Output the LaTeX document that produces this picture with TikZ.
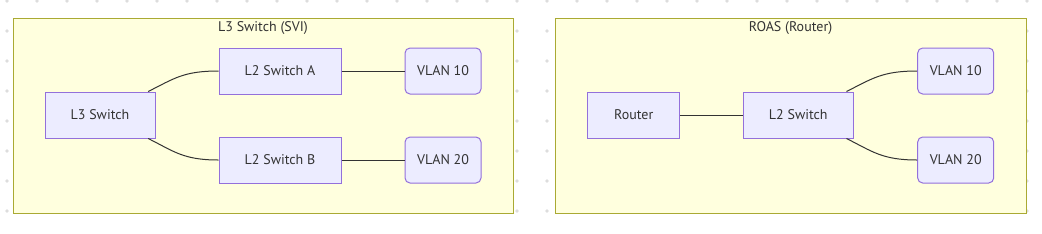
\documentclass[tikz,border=0pt]{standalone}
\usepackage{fontspec}
\setmainfont{PT Sans}
\definecolor{nodefill}{HTML}{ECECFF}
\definecolor{nodeline}{HTML}{9370DB}
\definecolor{clfill}{HTML}{FFFFDE}
\definecolor{clline}{HTML}{AAAA33}
\definecolor{txt}{HTML}{333333}
\definecolor{dotc}{HTML}{DDDDDD}
\begin{document}
\begin{tikzpicture}[x=0.75pt,y=-0.75pt,
  box/.style={draw=nodeline,fill=nodefill,line width=0.75pt,minimum height=34.5pt,inner sep=0pt,text=txt,font=\fontsize{10.5pt}{12pt}\selectfont},
  vlan/.style={box,rounded corners=3.75pt,minimum width=57pt},
  cluster/.style={draw=clline,fill=clfill,line width=0.75pt},
  ctitle/.style={text=txt,inner sep=0pt,font=\fontsize{10.5pt}{12pt}\selectfont},
  edge/.style={draw=txt,line width=0.75pt}]
\useasboundingbox (0,0) rectangle (1042,233);
\foreach \i in {0,...,34}{\foreach \j in {0,...,7}{
  \fill[dotc] (7+30*\i,1+30*\j) circle (1.4pt);}}
% clusters
\draw[cluster] (13,18) rectangle (513,213);
\node[ctitle] (t1) at (263,28.5) {L3 Switch (SVI)};
\draw[cluster] (555,18) rectangle (1026,213);
\node[ctitle] (t2) at (790.5,28.5) {ROAS (Router)};
% left nodes
\node[box,minimum width=82.5pt] (l3) at (100,115) {L3 Switch};
\node[box,minimum width=91.5pt] (a) at (280,71) {L2 Switch A};
\node[box,minimum width=91.5pt] (b) at (280,160) {L2 Switch B};
\node[vlan] (v10) at (443,71) {VLAN 10};
\node[vlan] (v20) at (443,160) {VLAN 20};
% right nodes
\node[box,minimum width=69pt] (r) at (633.7,115) {Router};
\node[box,minimum width=82.5pt] (l2) at (798.3,115) {L2 Switch};
\node[vlan] (w10) at (955.7,71) {VLAN 10};
\node[vlan] (w20) at (955.7,160) {VLAN 20};
% edges
\draw[edge] (l3.26) .. controls +(26,-13) and +(-35,0) .. (a.west);
\draw[edge] (l3.-26) .. controls +(26,13) and +(-35,0) .. (b.west);
\draw[edge] (a) -- (v10);
\draw[edge] (b) -- (v20);
\draw[edge] (r) -- (l2);
\draw[edge] (l2.26) .. controls +(26,-13) and +(-35,0) .. (w10.west);
\draw[edge] (l2.-26) .. controls +(26,13) and +(-35,0) .. (w20.west);
\end{tikzpicture}
\end{document}
